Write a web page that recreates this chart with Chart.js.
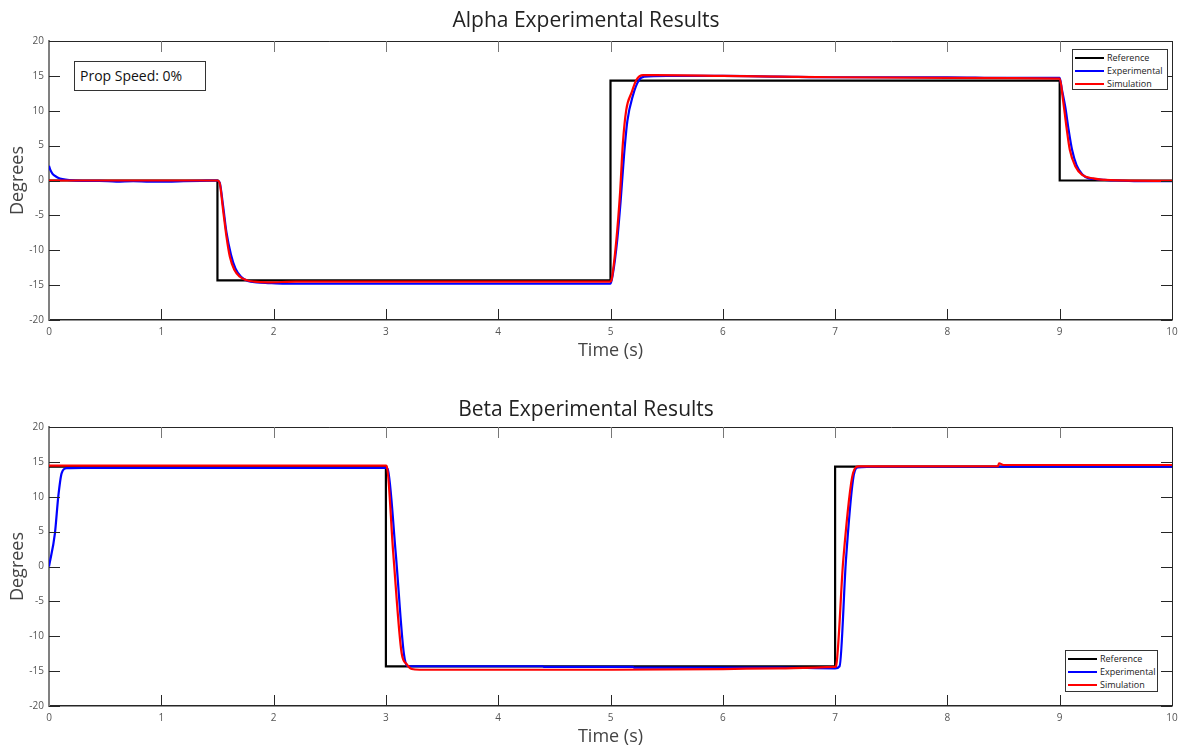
<!DOCTYPE html>
<html><head><meta charset="utf-8">
<script src="https://cdn.jsdelivr.net/npm/chart.js@4/dist/chart.umd.min.js"></script>
<style>
body{margin:0;background:#fff;width:1179px;height:749px;overflow:hidden;position:relative;font-family:"Open Sans",sans-serif}
.wrap{position:absolute;left:0;width:1179px;height:363px}
.legend{position:absolute;border:1px solid #333;background:#fff;font-size:9px;color:#222;box-sizing:border-box;padding-top:1px}
.legend div{display:flex;align-items:center;height:13px;padding-left:2px}
.legend span.l{display:inline-block;width:29px;height:2px;margin-right:3px}
.note{position:absolute;border:1px solid #333;background:#fff;font-size:14px;color:#111;box-sizing:border-box;padding-left:5px;line-height:27px}
</style></head><body>
<div class="wrap" style="top:0"><canvas id="c1" width="1179" height="363"></canvas></div>
<div class="wrap" style="top:386px"><canvas id="c2" width="1179" height="363"></canvas></div>
<div class="note" style="left:74px;top:61px;width:132px;height:30px">Prop Speed: 0%</div>
<div class="legend" style="left:1072px;top:49px;width:96px;height:41px">
 <div><span class="l" style="background:#000"></span>Reference</div>
 <div><span class="l" style="background:#0000ff"></span>Experimental</div>
 <div><span class="l" style="background:#ff0000"></span>Simulation</div>
</div>
<div class="legend" style="left:1065px;top:650px;width:93px;height:42px">
 <div><span class="l" style="background:#000"></span>Reference</div>
 <div><span class="l" style="background:#0000ff"></span>Experimental</div>
 <div><span class="l" style="background:#ff0000"></span>Simulation</div>
</div>
<script>
// ---- Alpha (top) ----
const alphaRefT = [0, 1.5, 1.5, 5, 5, 9, 9, 10];
const alphaRefY = [0, 0, -14.32, -14.32, 14.32, 14.32, 0, 0];
const alphaExpT = [0, 0.01, 0.03, 0.05, 0.08, 0.12, 0.18, 0.3, 0.45, 0.6, 0.75, 0.9, 1.05, 1.2, 1.35, 1.5, 1.52, 1.55, 1.58, 1.62, 1.66, 1.71, 1.77, 1.85, 1.95, 2.1, 2.5, 3, 3.5, 4, 4.5, 5.0, 5.02, 5.06, 5.09, 5.12, 5.15, 5.2, 5.25, 5.3, 5.5, 6, 6.5, 7, 7.5, 8, 8.5, 9.0, 9.02, 9.05, 9.08, 9.11, 9.15, 9.2, 9.26, 9.33, 9.4, 9.5, 9.7, 10];
const alphaExpY = [2.1, 1.6, 1.0, 0.7, 0.4, 0.2, 0.05, -0.05, -0.05, -0.15, -0.1, -0.15, -0.15, -0.1, -0.05, 0, -0.3, -3.6, -7.4, -10.6, -12.6, -13.8, -14.4, -14.6, -14.7, -14.8, -14.8, -14.8, -14.8, -14.8, -14.8, -14.8, -13.5, -8.5, -3, 3.5, 8.5, 12.2, 14.3, 14.9, 15.0, 15.0, 14.9, 14.8, 14.8, 14.8, 14.7, 14.7, 13.0, 10.5, 7.2, 4.4, 2.2, 0.9, 0.3, 0.2, 0.1, 0.0, -0.1, -0.1];
const alphaSimT = [0, 1.5, 1.52, 1.55, 1.58, 1.61, 1.65, 1.70, 1.76, 1.83, 1.95, 2.2, 3, 4, 5.0, 5.01, 5.05, 5.085, 5.11, 5.14, 5.19, 5.23, 5.29, 5.4, 6, 6.5, 7, 8, 9.0, 9.03, 9.06, 9.09, 9.14, 9.2, 9.3, 9.45, 10];
const alphaSimY = [0, 0, -0.4, -4.2, -8, -10.9, -12.8, -13.8, -14.3, -14.5, -14.6, -14.5, -14.5, -14.5, -14.5, -14.2, -8.9, -1.8, 5.3, 10.1, 12.7, 14.4, 15.1, 15.1, 15.0, 14.9, 14.8, 14.7, 14.6, 11.5, 7.7, 4.4, 2.0, 0.8, 0.3, 0.05, -0.05];
// ---- Beta (bottom) ----
const betaRefT = [0, 3, 3, 7, 7, 10];
const betaRefY = [14.32, 14.32, -14.32, -14.32, 14.32, 14.32];
const betaExpT = [0, 0.053, 0.083, 0.113, 0.158, 0.3, 3.0, 3.015, 3.087, 3.16, 3.2, 4.4, 4.41, 5.2, 5.21, 6.5, 7.0, 7.04, 7.097, 7.16, 7.2, 7.4, 10];
const betaExpY = [0, 4.8, 10.1, 13.4, 14.1, 14.15, 14.15, 14.0, 2.0, -12.5, -14.3, -14.3, -14.4, -14.4, -14.5, -14.5, -14.6, -14.3, 1.0, 12.5, 14.2, 14.3, 14.3];
const betaSimT = [0, 3.0, 3.007, 3.065, 3.14, 3.185, 3.23, 3.3, 4, 5, 6, 6.5, 7.0, 7.008, 7.073, 7.16, 7.21, 7.4, 8.45, 8.46, 8.5, 9, 10];
const betaSimY = [14.45, 14.45, 14.4, 2.0, -12.4, -14.0, -14.7, -14.8, -14.8, -14.8, -14.7, -14.6, -14.4, -14.3, 1.0, 13.4, 14.35, 14.35, 14.4, 14.8, 14.55, 14.55, 14.55];

const xTicks = [0,1,2,3,4,5,6,7,8,9,10];
const yTicks = [-20,-15,-10,-5,0,5,10,15,20];

const pts = (t, y) => t.map((v, i) => ({x: v, y: y[i]}));
const FONT = '"Open Sans", sans-serif';

const frame = {
  id: 'frame',
  afterDatasetsDraw(chart) {
    const {ctx, chartArea: a, scales: {x, y}} = chart;
    ctx.save();
    ctx.lineWidth = 1;
    const seg = (c, x1, y1, x2, y2) => { ctx.strokeStyle = c; ctx.beginPath(); ctx.moveTo(x1, y1); ctx.lineTo(x2, y2); ctx.stroke(); };
    seg('#262626', a.left, a.top + 0.5, a.right + 0.5, a.top + 0.5);
    seg('#262626', a.right + 0.5, a.top, a.right + 0.5, a.bottom);
    xTicks.forEach(v => {
      const px = Math.round(x.getPixelForValue(v)) + 0.5;
      if (v > 0 && v < 10) {
        seg('#262626', px, a.bottom, px, a.bottom - 11);
        seg('#777', px, a.top, px, a.top + 11);
      }
    });
    yTicks.forEach(v => {
      const py = Math.round(y.getPixelForValue(v)) + 0.5;
      seg('#262626', a.left, py, a.left + 11, py);
      seg('#262626', a.right, py, a.right - 11, py);
    });
    ctx.restore();
  }
};

function makeChart(id, title, ref, exp, sim, tPad) {
  new Chart(document.getElementById(id), {
    type: 'line',
    data: {
      datasets: [
        {label: 'Reference', data: ref, borderColor: '#000', borderWidth: 2.2, order: 3},
        {label: 'Experimental', data: exp, borderColor: '#0000ff', borderWidth: 2.2, order: 2, cubicInterpolationMode: 'monotone'},
        {label: 'Simulation', data: sim, borderColor: '#ff0000', borderWidth: 2.2, order: 1, cubicInterpolationMode: 'monotone'}
      ]
    },
    options: {
      responsive: false,
      animation: false,
      elements: {point: {radius: 0}, line: {tension: 0}},
      layout: {padding: {left: 0, right: 7, top: 0, bottom: 0}},
      plugins: {
        legend: {display: false},
        tooltip: {enabled: false},
        title: {display: true, text: title, color: '#222', font: {family: FONT, size: 21, weight: 'normal', lineHeight: 1.2}, padding: tPad}
      },
      scales: {
        x: {
          type: 'linear', min: 0, max: 10,
          afterBuildTicks: s => { s.ticks = xTicks.map(v => ({value: v})); },
          afterFit: s => { s.height = 43; s.paddingLeft = 0; s.paddingRight = 0; },
          grid: {drawOnChartArea: false, drawTicks: false},
          border: {display: true, color: '#262626', width: 1.5},
          ticks: {color: '#555', padding: 6, maxRotation: 0, font: {family: FONT, size: 10}},
          title: {display: true, text: 'Time (s)', color: '#444', font: {family: FONT, size: 18, lineHeight: 1.2}, padding: {top: 0, bottom: 1}}
        },
        y: {
          type: 'linear', min: -20, max: 20,
          afterBuildTicks: s => { s.ticks = yTicks.map(v => ({value: v})); },
          afterFit: s => { s.width = 49; s.paddingTop = 0; s.paddingBottom = 0; },
          grid: {drawOnChartArea: false, drawTicks: false},
          border: {display: true, color: '#808080', width: 2},
          ticks: {color: '#555', padding: 5, font: {family: FONT, size: 10}},
          title: {display: true, text: 'Degrees', color: '#444', font: {family: FONT, size: 18, lineHeight: 1.2}, padding: {top: 7, bottom: 0}}
        }
      }
    },
    plugins: [frame]
  });
}

makeChart('c1', 'Alpha Experimental Results', pts(alphaRefT, alphaRefY), pts(alphaExpT, alphaExpY), pts(alphaSimT, alphaSimY), {top: 8, bottom: 7.8});
makeChart('c2', 'Beta Experimental Results', pts(betaRefT, betaRefY), pts(betaExpT, betaExpY), pts(betaSimT, betaSimY), {top: 11, bottom: 4.8});
</script>
</body></html>
